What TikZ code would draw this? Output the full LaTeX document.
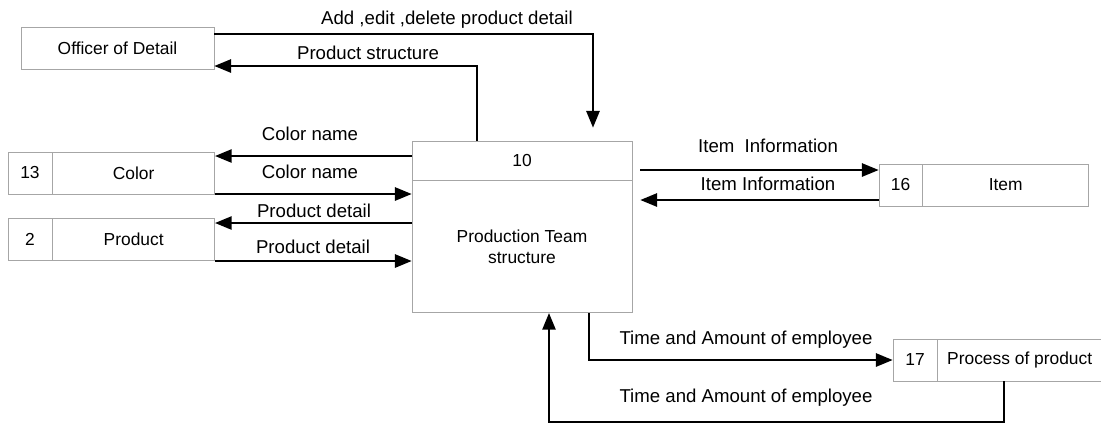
\documentclass[tikz,border=0pt]{standalone}
\usepackage{fontspec}
\setmainfont{Liberation Sans}
\usetikzlibrary{positioning,arrows.meta}
\tikzset{
  store/.style={draw=gray!70, line width=0.4pt, minimum height=0.84cm, inner sep=0pt, font=\fontsize{9.9}{12}\selectfont},
  flow/.style={line width=1.2pt, -{Triangle[length=9.5pt,width=7.5pt]}},
  lbl/.style={font=\fontsize{10.6}{12}\selectfont, inner sep=0pt},
}
\begin{document}
\begin{tikzpicture}[x=0.02cm,y=-0.02cm]
\useasboundingbox (0,0) rectangle (1101,424);

\node[store, minimum width=3.86cm] (off) at (117.5,48) {Officer of Detail};

\node[store, minimum width=0.88cm] (n13) at (30,173) {13};
\node[store, minimum width=3.24cm, right=0pt of n13] (color) {Color};
\node[store, minimum width=0.88cm] (n2) at (30,239) {2};
\node[store, minimum width=3.24cm, right=0pt of n2] (prod) {Product};

\node[store, minimum width=4.4cm, minimum height=0.78cm] (p10) at (522,160.5) {10};
\node[store, minimum width=4.4cm, minimum height=2.64cm, align=center, below=0pt of p10] (ptm) {Production Team\\structure};

\node[store, minimum width=0.86cm] (n16) at (900.5,185) {16};
\node[store, minimum width=3.32cm, right=0pt of n16] (item) {Item};
\node[store, minimum width=0.88cm] (n17) at (915,360) {17};
\node[store, minimum width=3.28cm, right=0pt of n17] (proc) {Process of product};

\draw[flow, shorten >=0.26cm] (off.east |- 0,34) -| ([xshift=1.42cm]p10.north);
\draw[flow] ([xshift=-0.9cm]p10.north) |- (off.east |- 0,66);
\draw[flow] (p10.west |- 0,156) -- (color.east |- 0,156);
\draw[flow] (color.east |- 0,194) -- (ptm.west |- 0,194);
\draw[flow] (ptm.west |- 0,223) -- (prod.east |- 0,223);
\draw[flow] (prod.east |- 0,261) -- (ptm.west |- 0,261);
\draw[flow, shorten <=0.16cm] (p10.east |- 0,170) -- (n16.west |- 0,170);
\draw[flow, shorten >=0.16cm] (n16.west |- 0,200) -- (ptm.east |- 0,200);
\draw[flow] ([xshift=1.34cm]ptm.south) |- (n17.west);
\draw[flow] ([xshift=-0.31cm]proc.south) -- ([xshift=-0.31cm]proc.south |- 0,422) -| ([xshift=0.54cm]ptm.south);

\node[lbl] (ladd) at (447,20) {Add ,edit ,delete product detail};
\node[lbl] (lstr) at (368,53) {Product structure};
\node[lbl] (lcol1) at (310,134) {Color name};
\node[lbl] (lcol2) at (310,172) {Color name};
\node[lbl] (lpd1) at (314,211) {Product detail};
\node[lbl] (lpd2) at (313,247) {Product detail};
\node[lbl] (lit1) at (768,146) {Item\ \ Information};
\node[lbl] (lit2) at (768,184) {Item Information};
\node[lbl] (ltm1) at (746,340) {Time and Amount of employee};
\node[lbl] (ltm2) at (746,398) {Time and Amount of employee};
\end{tikzpicture}
\end{document}
